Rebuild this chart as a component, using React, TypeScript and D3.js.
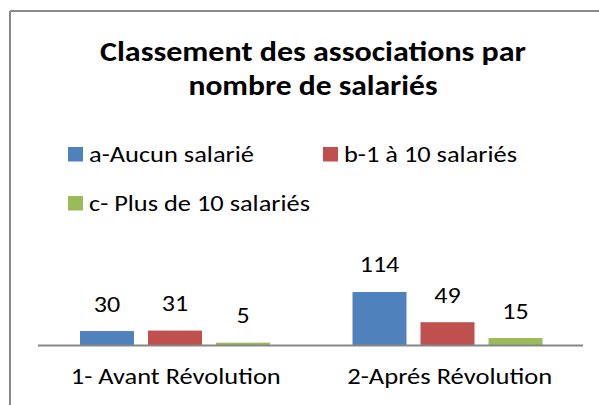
import React from "react";
import * as d3 from "d3";

const categories = ["1- Avant Révolution", "2-Aprés Révolution"];
const seriesNames = ["a-Aucun salarié", "b-1 à 10 salariés", "c- Plus de 10 salariés"];
const seriesColors = ["#4F81BD", "#C0504D", "#9BBB59"];
const aucun = [30, 114];
const unADix = [31, 49];
const plusDeDix = [5, 15];
const titleLines = ["Classement des associations par", "nombre de salariés"];

const seriesValues = [aucun, unADix, plusDeDix];

const W = 599;
const H = 405;
const FONT = "Carlito, Calibri, 'Open Sans', sans-serif";

export default function App() {
  const x0 = d3.scaleBand<string>().domain(categories).range([38, 583]).padding(0);
  const x1 = d3
    .scaleBand<string>()
    .domain(seriesNames)
    .range([42, 232])
    .paddingInner(14 / 68)
    .paddingOuter(0);
  const y = d3.scaleLinear().domain([0, 120]).range([345, 345 - 55.8]);

  const legendItems = [
    { x: 68, y: 147, tx: 89, tb: 161.5, tw: 165 },
    { x: 323, y: 147, tx: 344, tb: 161.5, tw: 173 },
    { x: 68, y: 196, tx: 89, tb: 210.5, tw: 221 },
  ];
  const catWidths = [210, 205];
  const catCentersAdj = [1.5, 3];

  return (
    <svg
      width={W}
      height={H}
      style={{ position: "absolute", left: 0, top: 0, background: "#fff" }}
      fontFamily={FONT}
    >
      <rect x={0} y={0} width={W} height={H} fill="#fff" />
      <line x1={10} y1={11} x2={W} y2={11} stroke="#8a8a8a" strokeWidth={2} />
      <line x1={10} y1={11} x2={10} y2={H} stroke="#8a8a8a" strokeWidth={2} />

      {titleLines.map((t, i) => (
        <text
          key={t}
          x={313}
          y={i === 0 ? 61 : 94.5}
          textAnchor="middle"
          fontWeight={600}
          fontSize={29}
          fill="#000"
          textLength={i === 0 ? 426 : 249}
          lengthAdjust="spacingAndGlyphs"
        >
          {t}
        </text>
      ))}

      {seriesNames.map((s, i) => (
        <g key={s}>
          <rect
            x={legendItems[i].x}
            y={legendItems[i].y}
            width={15}
            height={14.5}
            fill={seriesColors[i]}
          />
          <text
            x={legendItems[i].tx}
            y={legendItems[i].tb}
            fontSize={22}
            fill="#000"
            textLength={legendItems[i].tw}
            lengthAdjust="spacingAndGlyphs"
          >
            {s}
          </text>
        </g>
      ))}

      {categories.map((c, ci) => (
        <g key={c} transform={`translate(${x0(c)},0)`}>
          {seriesNames.map((s, si) => {
            const v = seriesValues[si][ci];
            const bx = x1(s)!;
            const bw = x1.bandwidth();
            return (
              <g key={s}>
                <rect x={bx} y={y(v)} width={bw} height={y(0) - y(v)} fill={seriesColors[si]} />
                <text
                  x={bx + bw / 2}
                  y={y(v) - 19.5}
                  textAnchor="middle"
                  fontSize={23}
                  fill="#000"
                  textLength={String(v).length * 13.2}
                  lengthAdjust="spacingAndGlyphs"
                >
                  {v}
                </text>
              </g>
            );
          })}
        </g>
      ))}

      <line x1={38} y1={345.5} x2={583} y2={345.5} stroke="#868686" strokeWidth={2} />

      {categories.map((c, ci) => (
        <text
          key={c}
          x={x0(c)! + x0.bandwidth() / 2 + catCentersAdj[ci]}
          y={384}
          textAnchor="middle"
          fontSize={22}
          fill="#000"
          textLength={catWidths[ci]}
          lengthAdjust="spacingAndGlyphs"
        >
          {c}
        </text>
      ))}
    </svg>
  );
}
